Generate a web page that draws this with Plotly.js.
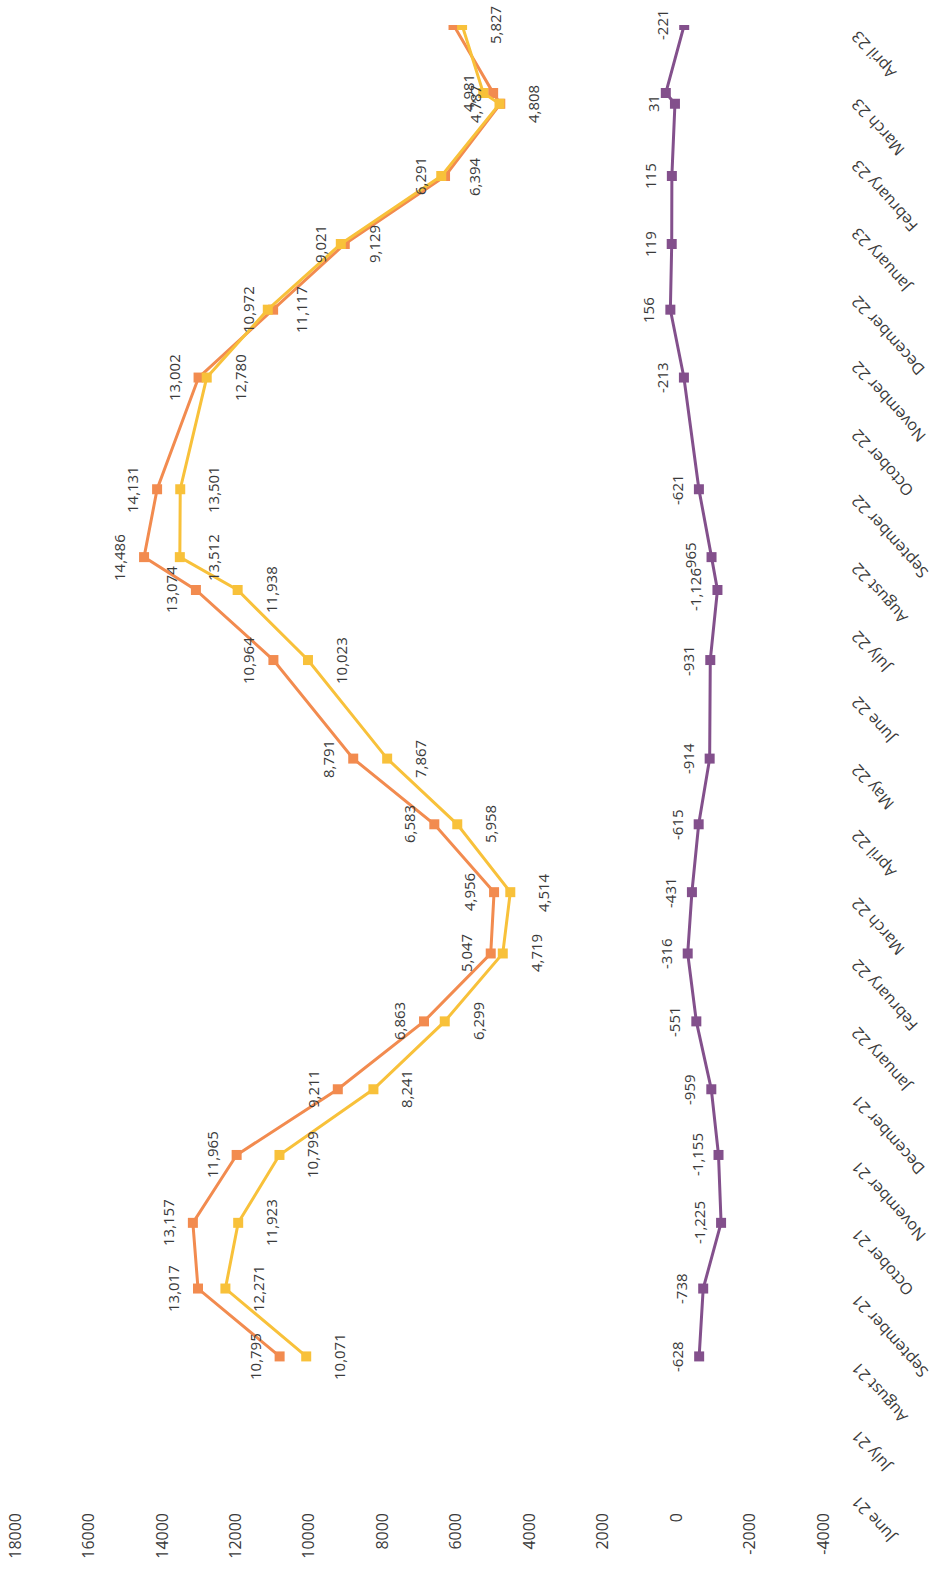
<!DOCTYPE html>
<html>
<head>
<meta charset="utf-8">
<script src="https://cdn.plot.ly/plotly-3.0.1.min.js"></script>
<style>
  html, body { margin: 0; padding: 0; background: #ffffff; overflow: hidden; }
  /* the chart is laid out landscape and turned a quarter turn to stand on the page */
  #chart {
    position: absolute; left: 0; top: 0;
    width: 1574px; height: 932px;
    transform-origin: 0 0;
    transform: translate(0px, 1574px) rotate(-90deg);
  }
</style>
</head>
<body>
<div id="chart"></div>
<script>
// reporting dates
const dates = [
  '2021-08-01', '2021-09-01', '2021-10-01', '2021-11-01', '2021-12-01',
  '2022-01-01', '2022-02-01', '2022-03-01', '2022-04-01', '2022-05-01',
  '2022-06-15', '2022-07-17', '2022-08-01', '2022-09-01', '2022-10-22',
  '2022-11-22', '2022-12-22', '2023-01-22', '2023-02-24', '2023-03-01',
  '2023-04-01'
];

// orange series
const seriesA = [10795, 13017, 13157, 11965, 9211, 6863, 5047, 4956, 6583, 8791,
                 10964, 13074, 14486, 14131, 13002, 10972, 9021, 6291, 4787, 4981, 6060];
const labelsA = [true, true, true, true, true, true, true, true, true, true,
                 true, true, true, true, true, true, true, true, true, true, false];

// yellow series
const seriesB = [10071, 12271, 11923, 10799, 8241, 6299, 4719, 4514, 5958, 7867,
                 10023, 11938, 13512, 13501, 12780, 11117, 9129, 6394, 4808, 5250, 5827];
const labelsB = [true, true, true, true, true, true, true, true, true, true,
                 true, true, true, true, true, true, true, true, true, false, true];

// purple series (gap)
const seriesC = [-628, -738, -1225, -1155, -959, -551, -316, -431, -615, -914,
                 -931, -1126, -965, -621, -213, 156, 119, 115, 31, 280, -221];
const labelsC = [true, true, true, true, true, true, true, true, true, true,
                 true, true, true, true, true, true, true, true, true, false, true];

// month ticks
const monthTicks = [
  '2021-06-01', '2021-07-01', '2021-08-01', '2021-09-01', '2021-10-01', '2021-11-01',
  '2021-12-01', '2022-01-01', '2022-02-01', '2022-03-01', '2022-04-01', '2022-05-01',
  '2022-06-01', '2022-07-01', '2022-08-01', '2022-09-01', '2022-10-01', '2022-11-01',
  '2022-12-01', '2023-01-01', '2023-02-01', '2023-03-01', '2023-04-01'
];
const monthLabels = [
  'June 21', 'July 21', 'August 21', 'September 21', 'October 21', 'November 21',
  'December 21', 'January 22', 'February 22', 'March 22', 'April 22', 'May 22',
  'June 22', 'July 22', 'August 22', 'September 22', 'October 22', 'November 22',
  'December 22', 'January 23', 'February 23', 'March 23', 'April 23'
];

// value ticks
const valueTicks = [-4000, -2000, 0, 2000, 4000, 6000, 8000, 10000, 12000, 14000, 16000, 18000];
const valueLabels = ['-4000', '-2000', '0', '2000', '4000', '6000', '8000', '10000', '12000', '14000', '16000', '18000'];

const COL_A = '#F28B4F';
const COL_B = '#F8C13A';
const COL_C = '#83508C';
const FONT = '"Open Sans", "Noto Sans", sans-serif';
const TXT = '#3A3A3A';

function lineTrace(y, color) {
  return {
    type: 'scatter', mode: 'lines+markers',
    x: dates, y: y,
    line: { color: color, width: 3 },
    marker: { symbol: 'square', size: 10, color: color },
    hoverinfo: 'skip'
  };
}

const data = [lineTrace(seriesA, COL_A), lineTrace(seriesB, COL_B), lineTrace(seriesC, COL_C)];

const fmt = v => v.toLocaleString('en-US');

function labelSet(y, show, shift) {
  const out = [];
  y.forEach((v, i) => {
    if (!show[i]) return;
    out.push({
      x: dates[i], y: v, xref: 'x', yref: 'y',
      text: fmt(v), showarrow: false, yshift: shift,
      font: { family: FONT, size: 15, color: TXT }
    });
  });
  return out;
}

const annotations = [].concat(
  labelSet(seriesA, labelsA, 25),
  labelSet(seriesB, labelsB, -33),
  labelSet(seriesC, labelsC, 22)
);

const layout = {
  width: 1574, height: 932,
  margin: { l: 84, r: 25, t: 15, b: 109, pad: 0 },
  paper_bgcolor: '#ffffff', plot_bgcolor: '#ffffff',
  showlegend: false,
  font: { family: FONT, color: TXT },
  xaxis: {
    type: 'date',
    range: ['2021-06-01', '2023-04-01'],
    tickmode: 'array', tickvals: monthTicks, ticktext: monthLabels,
    tickangle: -42,
    tickfont: { family: FONT, size: 16, color: TXT },
    showgrid: false, zeroline: false, showline: false, ticks: '',
    ticklabelstandoff: 21,
    ticklabelshift: -10
  },
  yaxis: {
    range: [-4000, 18000],
    tickmode: 'array', tickvals: valueTicks, ticktext: valueLabels,
    tickfont: { family: FONT, size: 16, color: TXT },
    showgrid: false, zeroline: false, showline: false, ticks: '',
    ticklabelstandoff: 22
  },
  annotations: annotations
};

Plotly.newPlot('chart', data, layout, { staticPlot: true, displayModeBar: false });
</script>
</body>
</html>
